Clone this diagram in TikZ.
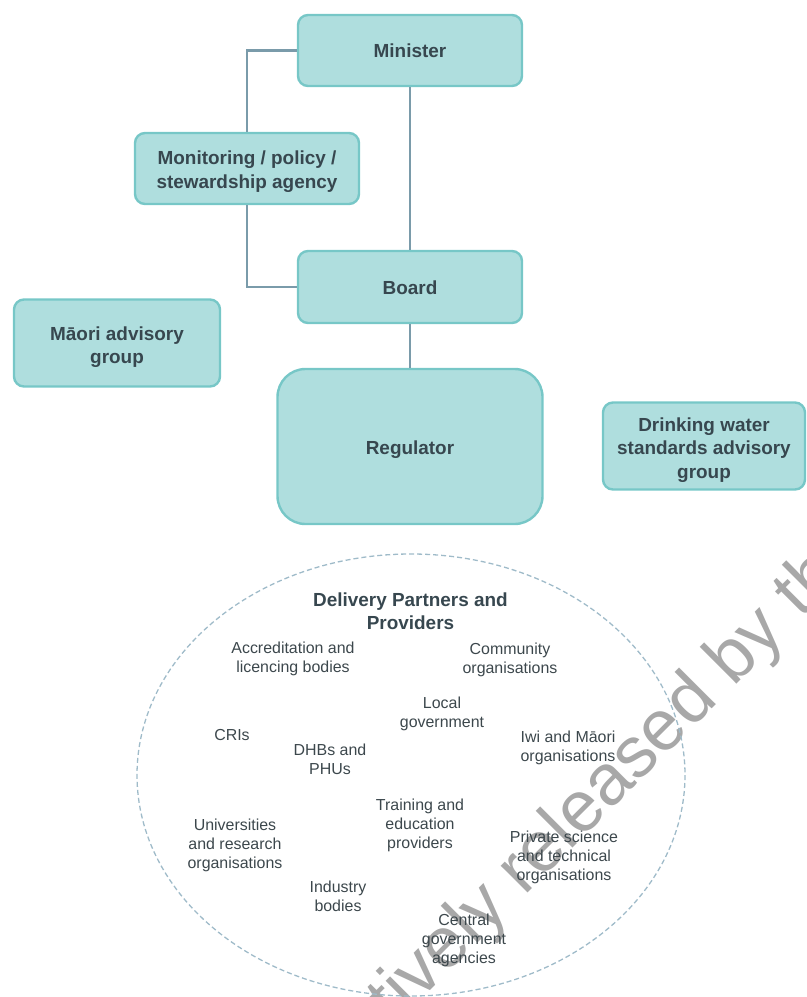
\documentclass[tikz,border=0pt]{standalone}
\usepackage{fontspec}
\setmainfont{Liberation Sans}
\definecolor{boxfill}{HTML}{AFDEDE}
\definecolor{boxline}{HTML}{77C7C7}
\definecolor{linkcol}{HTML}{7A9BAA}
\definecolor{headtext}{HTML}{37474F}
\definecolor{bodytext}{HTML}{3C474C}
\definecolor{ringcol}{HTML}{9FBBC9}
\definecolor{wmcol}{HTML}{A8A8A8}
\begin{document}
\begin{tikzpicture}[x=1bp,y=-1bp,
  unit/.style={draw=boxline, fill=boxfill, line width=2.4bp, rounded corners=10bp,
    inner sep=0pt},
  unittext/.style={align=center, text=headtext, inner sep=0pt,
    font=\fontsize{19}{23.5}\selectfont\bfseries},
  link/.style={draw=linkcol, line width=2.4bp},
  partner/.style={align=center, text=bodytext, inner sep=0pt,
    font=\fontsize{16}{19}\selectfont},
  ring/.style={draw=ringcol, line width=1.3bp, dash pattern=on 5bp off 3bp}]
\useasboundingbox (0,0) rectangle (807,997);

% release stamp across the lower right
\begin{scope}
  \clip (0,0) rectangle (807,997);
  \node[anchor=base west, rotate=45, inner sep=0pt, text=wmcol,
        font=\fontsize{72}{80}\selectfont] (stamp) at (395,1026)
        {tively released by th};
\end{scope}

% governance boxes
\node[unit, minimum width=224bp, minimum height=71bp] (min) at (410,50.5) {};
\node[unit, minimum width=224bp, minimum height=71bp] (mon) at (247,168.5) {};
\node[unit, minimum width=224bp, minimum height=72bp] (board) at (410,287) {};
\node[unit, minimum width=206bp, minimum height=87bp] (maori) at (117,343) {};
\node[unit, rounded corners=28bp, minimum width=265bp, minimum height=155bp] (reg)
  at (410,446.5) {};
\node[unit, minimum width=202bp, minimum height=87bp] (dw) at (704,446) {};

% box captions
\node[unittext] (min-t) at (min.center) {Minister};
\node[unittext] (mon-t) at ([yshift=-3bp]mon.center)
  {Monitoring / policy /\\stewardship agency};
\node[unittext] (board-t) at ([yshift=-1bp]board.center) {Board};
\node[unittext] (maori-t) at ([yshift=-4bp]maori.center) {Māori advisory\\group};
\node[unittext] (reg-t) at ([yshift=-3bp]reg.center) {Regulator};
\node[unittext] (dw-t) at ([yshift=-4bp]dw.center)
  {Drinking water\\standards advisory\\group};

% reporting lines
\draw[link] (min.west) -| (mon.north);
\draw[link] (mon.south) |- (board.west);
\draw[link] (min.south) -- (board.north);
\draw[link] (board.south) -- (reg.north);

% delivery partners
\draw[ring] (411,775) ellipse [x radius=274, y radius=221];
\node[align=center, text=headtext, inner sep=0pt,
      font=\fontsize{19}{23}\selectfont\bfseries] (dp) at (410.5,611.5)
  {Delivery Partners and\\Providers};
\node[partner] (acc) at (293,659) {Accreditation and\\licencing bodies};
\node[partner] (com) at (510,659.5) {Community\\organisations};
\node[partner] (loc) at (442,713.5) {Local\\government};
\node[partner] (cri) at (232,735.5) {CRIs};
\node[partner] (dhb) at (330,759) {DHBs and\\PHUs};
\node[partner] (iwi) at (568,747.5) {Iwi and Māori\\organisations};
\node[partner] (trn) at (420,825) {Training and\\education\\providers};
\node[partner] (uni) at (235,845) {Universities\\and research\\organisations};
\node[partner] (pri) at (564,857) {Private science\\and technical\\organisations};
\node[partner] (ind) at (338,896) {Industry\\bodies};
\node[partner] (cen) at (464,940) {Central\\government\\agencies};
\end{tikzpicture}
\end{document}
